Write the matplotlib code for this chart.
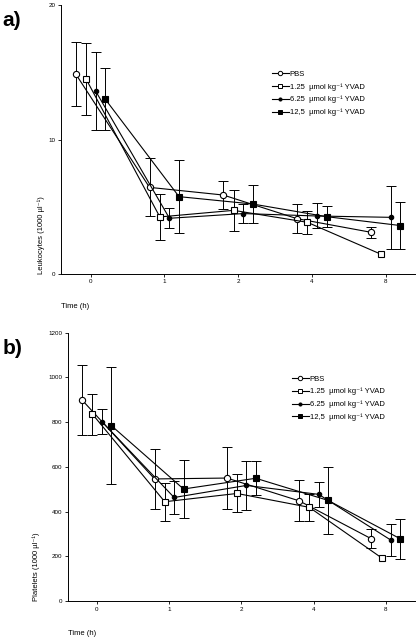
import numpy as np
import matplotlib
matplotlib.use("Agg")
import matplotlib.pyplot as plt
from matplotlib.lines import Line2D

plt.rcParams['font.family'] = ['Liberation Sans', 'DejaVu Sans']

# time points (categorical, equally spaced on the axis)
times = ['0', '1', '2', '4', '8']
groups = ['PBS', '1.25  µmol kg⁻¹ YVAD', '6.25  µmol kg⁻¹ YVAD', '12,5  µmol kg⁻¹ YVAD']

# a) leukocytes (1000 / µl): mean and SD per group
leuko_pbs = [14.87, 6.44, 5.87, 4.11, 3.10]
leuko_pbs_sd = [2.37, 2.15, 1.04, 1.10, 0.41]
leuko_125 = [14.50, 4.24, 4.73, 3.84, 1.46]
leuko_125_sd = [2.67, 1.73, 1.50, 0.85, 0.0]
leuko_625 = [13.60, 4.14, 4.49, 4.31, 4.21]
leuko_625_sd = [2.92, 0.74, 0.69, 0.93, 2.33]
leuko_125b = [13.00, 5.75, 5.20, 4.26, 3.60]
leuko_125b_sd = [2.30, 2.69, 1.42, 0.80, 1.73]

# b) platelets (1000 / µl)
plt_pbs = [898, 546, 550, 448, 278]
plt_pbs_sd = [157, 136, 139, 92, 43]
plt_125 = [836, 444, 481, 419, 193]
plt_125_sd = [92, 85, 85, 60, 0]
plt_625 = [803, 463, 517, 477, 272]
plt_625_sd = [55, 76, 110, 55, 73]
plt_125b = [785, 501, 549, 450, 278]
plt_125b_sd = [263, 130, 77, 151, 90]

offsets = [-0.2, -0.06, 0.07, 0.2]
markers = [('o', 'white', 4.5), ('s', 'white', 4.2), ('o', 'black', 3.2), ('s', 'black', 4.2)]

fig = plt.figure(figsize=(4.19, 6.4), dpi=100)
ax_a = fig.add_axes([0.1456, 0.572, 0.845, 0.42])
ax_b = fig.add_axes([0.162, 0.061, 0.828, 0.419])


def draw_panel(ax, means, sds, ylim, yticks, ylabel, ylab_x, leg_anchor):
    x = np.arange(len(times))
    handles = []
    for i, (m, s) in enumerate(zip(means, sds)):
        mk, fc, ms = markers[i]
        xs = x + offsets[i]
        m = np.array(m, float)
        s = np.array(s, float)
        has = s > 0
        ax.errorbar(xs[has], m[has], yerr=s[has], fmt='none', ecolor='black',
                    elinewidth=0.7, capsize=3.5, capthick=0.7)
        ax.plot(xs, m, color='black', lw=0.8, marker=mk, mfc=fc, mec='black',
                ms=ms, mew=0.8, zorder=3)
        handles.append(Line2D([], [], color='black', lw=0.8, marker=mk, mfc=fc,
                              mec='black', ms=ms * 0.7, mew=0.7, label=groups[i]))
    ax.set_xlim(-0.4, 4.4)
    ax.set_ylim(*ylim)
    ax.set_xticks(x)
    ax.set_xticklabels(times)
    ax.set_yticks(yticks)
    ax.tick_params(labelsize=4.5, length=2, width=0.6, pad=2)
    for sp in ['top', 'right']:
        ax.spines[sp].set_visible(False)
    for sp in ['left', 'bottom']:
        ax.spines[sp].set_linewidth(0.7)
    ax.text(ylab_x, 0.0, ylabel, transform=ax.transAxes, rotation=90,
            ha='center', va='bottom', fontsize=5.5)
    ax.text(0.0, -0.12, 'Time (h)', transform=ax.transAxes, ha='left',
            va='center', fontsize=5.5)
    ax.legend(handles=handles, loc='upper left', bbox_to_anchor=leg_anchor,
              frameon=False, fontsize=5.5, handlelength=2.2, handletextpad=0.1,
              labelspacing=0.7, borderpad=0, borderaxespad=0, numpoints=1)


draw_panel(ax_a,
           [leuko_pbs, leuko_125, leuko_625, leuko_125b],
           [leuko_pbs_sd, leuko_125_sd, leuko_625_sd, leuko_125b_sd],
           (0, 20), [0, 10, 20], 'Leukocytes (1000 µl⁻¹)', -0.057, (0.596, 0.757))
draw_panel(ax_b,
           [plt_pbs, plt_125, plt_625, plt_125b],
           [plt_pbs_sd, plt_125_sd, plt_625_sd, plt_125b_sd],
           (0, 1200), [0, 200, 400, 600, 800, 1000, 1200], 'Platelets (1000 µl⁻¹)', -0.09, (0.646, 0.842))

fig.text(0.005, 0.968, 'a)', fontsize=15, fontweight='bold', ha='left', va='center')
fig.text(0.005, 0.456, 'b)', fontsize=15, fontweight='bold', ha='left', va='center')

fig.savefig('out.png', dpi=100)
